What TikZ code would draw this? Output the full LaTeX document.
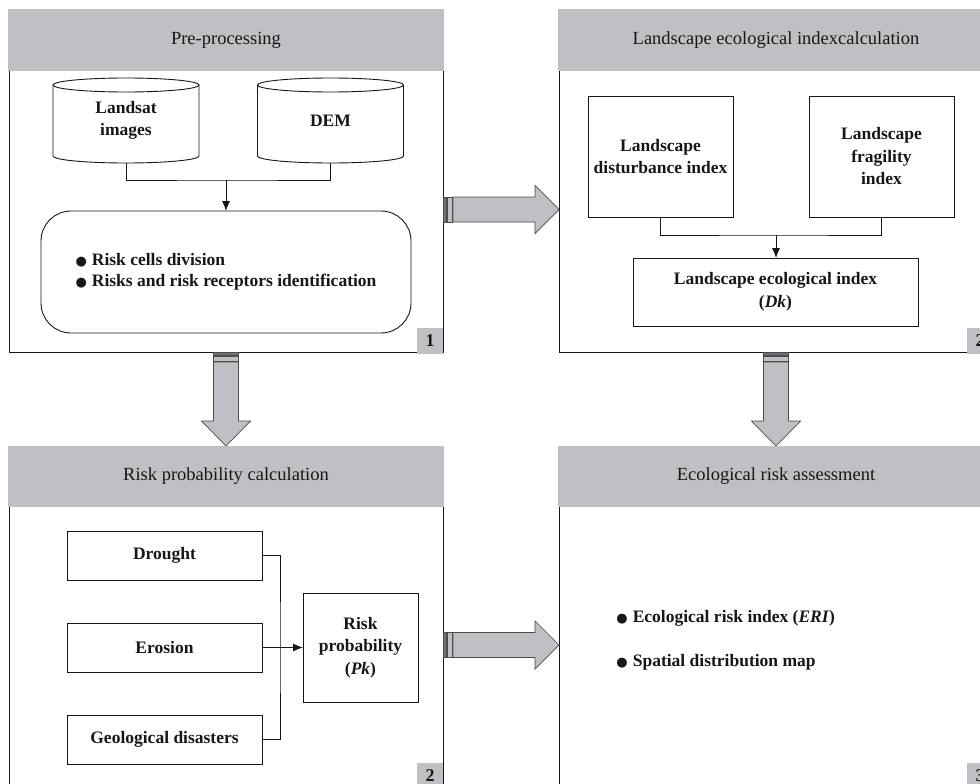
\documentclass[tikz,border=0pt]{standalone}
\usepackage{fontspec}
\setmainfont{Liberation Serif}
\newfontfamily\symfont{DejaVu Sans}
\usetikzlibrary{arrows.meta}
\definecolor{panelgray}{RGB}{191,192,196}
\definecolor{ink}{RGB}{25,22,23}
\newcommand{\bul}{{\symfont\fontsize{13}{13}\selectfont ●}\hspace{5pt}}
\newcommand{\drum}[1]{%
    \draw ([yshift=-7pt]#1.north west) -- ([yshift=7pt]#1.south west)
        arc[start angle=180, end angle=360, x radius=73pt, y radius=7pt]
        -- ([yshift=-7pt]#1.north east);
    \draw ([yshift=-7pt]#1.north) ellipse [x radius=73pt, y radius=7pt];}
\begin{document}
\begin{tikzpicture}[x=1pt, y=-1pt, line width=0.9pt, color=ink,
    panel/.style={draw, outer sep=0pt, minimum width=434pt, minimum height=342pt},
    head/.style={fill=panelgray, outer sep=0pt, anchor=north, minimum width=435.5pt, minimum height=61.5pt, font=\fontsize{18.5}{22}\selectfont},
    tag/.style={fill=panelgray, outer sep=0pt, anchor=south east, minimum size=26pt, inner sep=0pt, font=\bfseries\fontsize{18}{18}\selectfont},
    box/.style={draw, outer sep=0pt, align=center, inner sep=2pt, font=\bfseries\fontsize{17.5}{22.5}\selectfont},
    store/.style={box, draw=none, minimum width=146pt, minimum height=85pt},
    item/.style={anchor=west, inner sep=0pt, font=\bfseries\fontsize{17.5}{21}\selectfont},
    fat/.style={fill=panelgray, draw=black!70, line width=0.7pt},
    link/.style={-{Latex[length=10pt, width=8pt]}}]
    \useasboundingbox (0,0) rectangle (980,784);
    \clip (0,0) rectangle (980,784);

    \node[panel] (p1) at (226,181) {};
    \node[head] (h1) at ([yshift=0.5pt]p1.north) {Pre-processing};
    \node[tag] (t1) at ([yshift=-2pt]p1.south east) {1};
    \node[store] (landsat) at (126,120.5) {Landsat\\images};
    \node[store] (dem) at (330.5,120.5) {DEM};
    \drum{landsat}
    \drum{dem}
    \node[box, rounded corners=30pt, minimum width=370pt, minimum height=122pt, align=left,
        font=\bfseries\fontsize{17.5}{21}\selectfont] (tasks) at (226,272)
        {\bul Risk cells division\\\bul Risks and risk receptors identification};
    \coordinate (j1) at (226,180);
    \draw (landsat.south) |- (j1) -| (dem.south);
    \draw[link] (j1) -- (tasks);

    \node[panel] (p2) at (776,181) {};
    \node[head] (h2) at ([yshift=0.5pt]p2.north) {Landscape ecological indexcalculation};
    \node[tag] (t2) at ([yshift=-2pt]p2.south east) {2};
    \node[box, minimum width=145pt, minimum height=121pt] (dist) at (660.5,156.5) {Landscape\\disturbance index};
    \node[box, minimum width=145pt, minimum height=121pt] (frag) at (881.5,156.5) {Landscape\\fragility\\index};
    \node[box, minimum width=285pt, minimum height=68pt] (eco) at (775.5,292) {Landscape ecological index\\(\textit{Dk})};
    \coordinate (j2) at (776,235);
    \draw (dist.south) |- (j2) -| (frag.south);
    \draw[link] (j2) -- (j2 |- eco.north);

    \node[panel, minimum height=341pt] (p3) at (226,616.5) {};
    \node[head] (h3) at ([yshift=0.5pt]p3.north) {Risk probability calculation};
    \node[tag] (t3) at ([yshift=-2pt]p3.south east) {2};
    \node[box, minimum width=195pt, minimum height=49pt] (drought) at (164.5,555.5) {Drought};
    \node[box, minimum width=195pt, minimum height=49pt] (erosion) at (164.5,647.5) {Erosion};
    \node[box, minimum width=195pt, minimum height=49pt] (geo) at (164.5,739.5) {Geological disasters};
    \node[box, minimum width=115pt, minimum height=109pt] (riskp) at (360.5,647.5) {Risk\\probability\\(\textit{Pk})};
    \coordinate (j3) at (280,647.5);
    \draw (drought.east) -| (j3) |- (geo.east);
    \draw[link] (erosion) -- (riskp);

    \node[panel, minimum height=341pt] (p4) at (776,616.5) {};
    \node[head] (h4) at ([yshift=0.5pt]p4.north) {Ecological risk assessment};
    \node[tag] (t4) at ([yshift=-2pt]p4.south east) {3};
    \node[item] (eri) at (616,618) {\bul Ecological risk index (\textit{ERI})};
    \node[item] (map) at (616,662) {\bul Spatial distribution map};

    \path (p1.east) ++(0,28.5) coordinate (r1);
    \draw[fat, fill=black!55] (r1) ++(0,-12.5) rectangle ++(3,25);
    \draw[fat] (r1) ++(4,-12.5) rectangle ++(5,25);
    \draw[fat] (r1) ++(10,-12.5) -- ++(82,0) -- ++(0,-11.5) -- ++(24,24) -- ++(-24,24) -- ++(0,-11.5) -- ++(-82,0) -- cycle;

    \path (p3.east) ++(0,28.5) coordinate (r2);
    \draw[fat, fill=black!55] (r2) ++(0,-12.5) rectangle ++(3,25);
    \draw[fat] (r2) ++(4,-12.5) rectangle ++(5,25);
    \draw[fat] (r2) ++(10,-12.5) -- ++(82,0) -- ++(0,-11.5) -- ++(24,24) -- ++(-24,24) -- ++(0,-11.5) -- ++(-82,0) -- cycle;

    \draw[fat, fill=black!55] (p1.south) ++(-12.5,0) rectangle ++(25,3);
    \draw[fat] (p1.south) ++(-12.5,4) rectangle ++(25,5);
    \draw[fat] (p1.south) ++(-12.5,10) -- ++(0,59) -- ++(-12,0) -- ++(24.5,25) -- ++(24.5,-25) -- ++(-12,0) -- ++(0,-59) -- cycle;

    \draw[fat, fill=black!55] (p2.south) ++(-12.5,0) rectangle ++(25,3);
    \draw[fat] (p2.south) ++(-12.5,4) rectangle ++(25,5);
    \draw[fat] (p2.south) ++(-12.5,10) -- ++(0,59) -- ++(-12,0) -- ++(24.5,25) -- ++(24.5,-25) -- ++(-12,0) -- ++(0,-59) -- cycle;
\end{tikzpicture}
\end{document}
